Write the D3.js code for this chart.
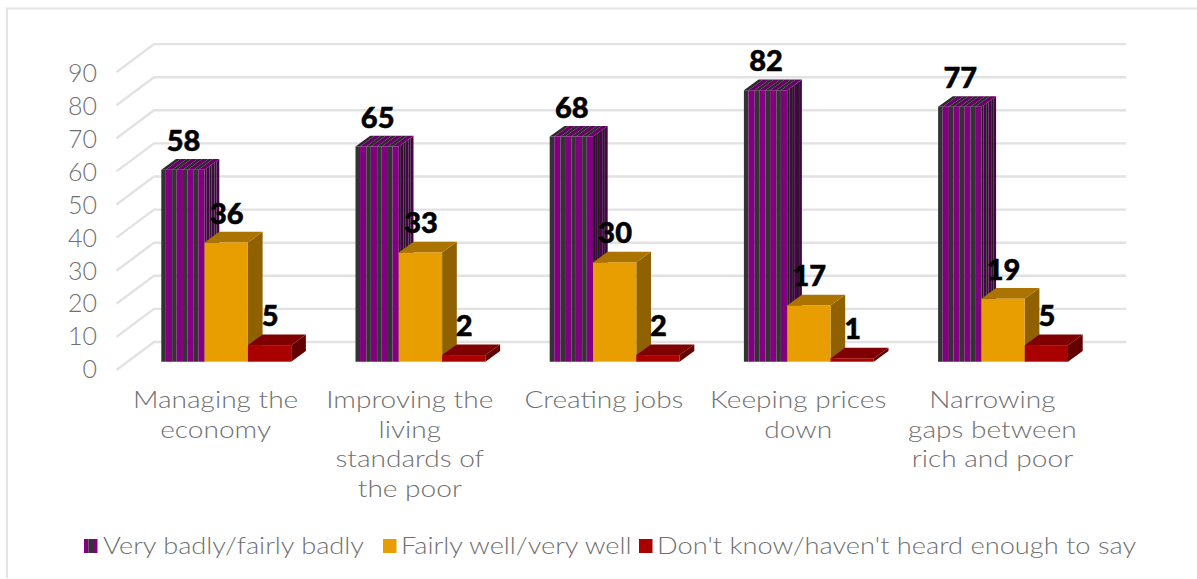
<!DOCTYPE html>
<html>
<head>
<meta charset="utf-8">
<script src="https://cdn.jsdelivr.net/npm/d3@7/dist/d3.min.js"></script>
<style>
  html, body { margin: 0; padding: 0; background: #fff; }
  svg { display: block; }
  text { font-family: Lato, sans-serif; }
</style>
</head>
<body>
<div id="chart"></div>
<script>
// Survey responses, percent per policy area
const categories = [
  ["Managing the", "economy"],
  ["Improving the", "living", "standards of", "the poor"],
  ["Creating jobs"],
  ["Keeping prices", "down"],
  ["Narrowing", "gaps between", "rich and poor"]
];
const seriesNames = ["Very badly/fairly badly", "Fairly well/very well", "Don't know/haven't heard enough to say"];
const veryBadly = [58, 65, 68, 82, 77];
const fairlyWell = [36, 33, 30, 17, 19];
const dontKnow = [5, 2, 2, 1, 5];
const yTicks = [0, 10, 20, 30, 40, 50, 60, 70, 80, 90];

const W = 1197, H = 579;
const svg = d3.select("#chart").append("svg").attr("width", W).attr("height", H);

// Oblique projection: the back wall sits up and to the right of the front plane
const wall = { dx: 37.5, dy: 28 };
const barDepth = { dx: 14.7, dy: 10.7 };
const baseY = 361.7, unit = 3.31;

const y = d3.scaleLinear().domain([0, 90]).range([baseY, baseY - 90 * unit]);
const group = d3.scaleBand().domain(d3.range(categories.length)).range([161.3, 161.3 + 194.2 * 5]);
const barW = 43.3;
const inner = d3.scaleBand().domain([0, 1, 2]).range([0, barW * 3]);

const greyText = "#707070", gridCol = "#e2e2e2", lightWeight = 300;

// Outer frame, open on the right
svg.append("path")
  .attr("d", `M${W},8.5H7V578`)
  .attr("fill", "none").attr("stroke", "#e3e3e3").attr("stroke-width", 2);

// Gridlines: a diagonal across the side wall, then a run along the back wall
const backY = v => y(v) + 8.3 - wall.dy;
const frontX = 116.5, backX = frontX + wall.dx, gridEnd = 1126;
svg.append("g").selectAll("path").data(yTicks).join("path")
  .attr("d", v => `M${frontX},${backY(v) + wall.dy}L${backX},${backY(v)}H${gridEnd}`)
  .attr("fill", "none").attr("stroke", gridCol).attr("stroke-width", 2.4);

// Value axis
const axis = d3.axisLeft(y.copy().range([y(0) + 8, y(90) + 10])).tickValues(yTicks).tickSize(0).tickPadding(0);
const axisG = svg.append("g").attr("transform", "translate(97,0)").call(axis);
axisG.select(".domain").remove();
axisG.selectAll("text").attr("fill", greyText)
  .style("font-size", "25px").style("font-weight", lightWeight).style("font-family", "Lato, sans-serif");

// Alternating stripes across one face: the first colour takes `firstShare` of each
// period, the second the rest. `along` gives the corner points of a stripe.
function stripedFace(g, span, period, colA, colB, along, firstShare = 0.42) {
  const edge = k => Math.min(Math.floor(k / 2) * period + (k % 2 ? firstShare * period : 0), span);
  const count = Math.ceil(2 * span / period - 0.01);
  g.selectAll(null).data(d3.range(count)).join("polygon")
    .attr("fill", k => (k % 2 ? colB : colA))
    .attr("points", k => along(edge(k), edge(k + 1)).join(" "));
}

const faces = [
  { front: "#e89e00", top: "#ab7400", side: "#8f6100" },
  { front: "#a90000", top: "#7f0000", side: "#640000" }
];
const allSeries = [veryBadly, fairlyWell, dontKnow];
const stripePeriod = barW / 4, sidePeriod = barDepth.dx / 3;

categories.forEach((_, i) => {
  const g = svg.append("g");
  allSeries.forEach((vals, s) => {
    const x0 = group(i) + inner(s), x1 = x0 + inner.bandwidth();
    const top = y(vals[i]);
    const d = barDepth;
    if (s === 0) {
      const w = x1 - x0;
      stripedFace(g.append("g"), d.dx, sidePeriod, "#1f1f1f", "#4d004d", (a, b) => [
        [x1 + a, top - d.dy * a / d.dx], [x1 + b, top - d.dy * b / d.dx],
        [x1 + b, baseY - d.dy * b / d.dx], [x1 + a, baseY - d.dy * a / d.dx]
      ]);
      stripedFace(g.append("g"), w, stripePeriod, "#2a2a2a", "#660066", (a, b) => [
        [x0 + a, top], [x0 + b, top], [x0 + b + d.dx, top - d.dy], [x0 + a + d.dx, top - d.dy]
      ]);
      stripedFace(g.append("g"), w, stripePeriod, "#333333", "#800080", (a, b) => [
        [x0 + a, top], [x0 + b, top], [x0 + b, baseY], [x0 + a, baseY]
      ]);
    } else {
      const c = faces[s - 1];
      g.append("polygon").attr("fill", c.side)
        .attr("points", [[x1, top], [x1 + d.dx, top - d.dy], [x1 + d.dx, baseY - d.dy], [x1, baseY]].join(" "));
      g.append("polygon").attr("fill", c.top)
        .attr("points", [[x0, top], [x0 + d.dx, top - d.dy], [x1 + d.dx, top - d.dy], [x1, top]].join(" "));
      g.append("rect").attr("x", x0).attr("y", top).attr("width", x1 - x0).attr("height", baseY - top).attr("fill", c.front);
    }
  });
});

// Value labels above the bars
const labels = svg.append("g").attr("text-anchor", "middle").attr("font-weight", 900).attr("font-size", 29)
  .attr("fill", "#000").attr("stroke", "#000").attr("stroke-width", 0.5);
allSeries.forEach((vals, s) => {
  labels.selectAll(null).data(vals).join("text")
    .attr("x", (v, i) => group(i) + inner(s) + inner.bandwidth() / 2 + 0.5)
    .attr("y", v => y(v) - 19)
    .text(v => v);
});

// Category labels, wrapped by hand
const catStretch = 1.17, legendStretch = 1.135;
const catG = svg.append("g").attr("text-anchor", "middle").attr("font-size", 24).attr("font-weight", lightWeight).attr("fill", greyText);
categories.forEach((lines, i) => {
  const cx = group(i) + 54.3;
  lines.forEach((line, k) => {
    catG.append("text")
      .attr("transform", `translate(${cx},${408 + k * 29.6}) scale(${catStretch},1)`)
      .text(line);
  });
});

// Legend along the bottom
const legendX = [84, 383, 639], textX = [103, 401, 657];
const lg = svg.append("g");
stripedFace(lg.append("g"), 13.5, 9, "#800080", "#333333", (a, b) => [
  [legendX[0] + a, 539], [legendX[0] + b, 539], [legendX[0] + b, 553], [legendX[0] + a, 553]
], 0.5);
seriesNames.forEach((name, s) => {
  if (s > 0) {
    lg.append("rect").attr("x", legendX[s]).attr("y", 539).attr("width", 13.5).attr("height", 14).attr("fill", faces[s - 1].front);
  }
  lg.append("text").attr("transform", `translate(${textX[s]},554) scale(${legendStretch},1)`)
    .attr("font-size", 24).attr("font-weight", lightWeight).attr("fill", greyText).text(name);
});
</script>
</body>
</html>
